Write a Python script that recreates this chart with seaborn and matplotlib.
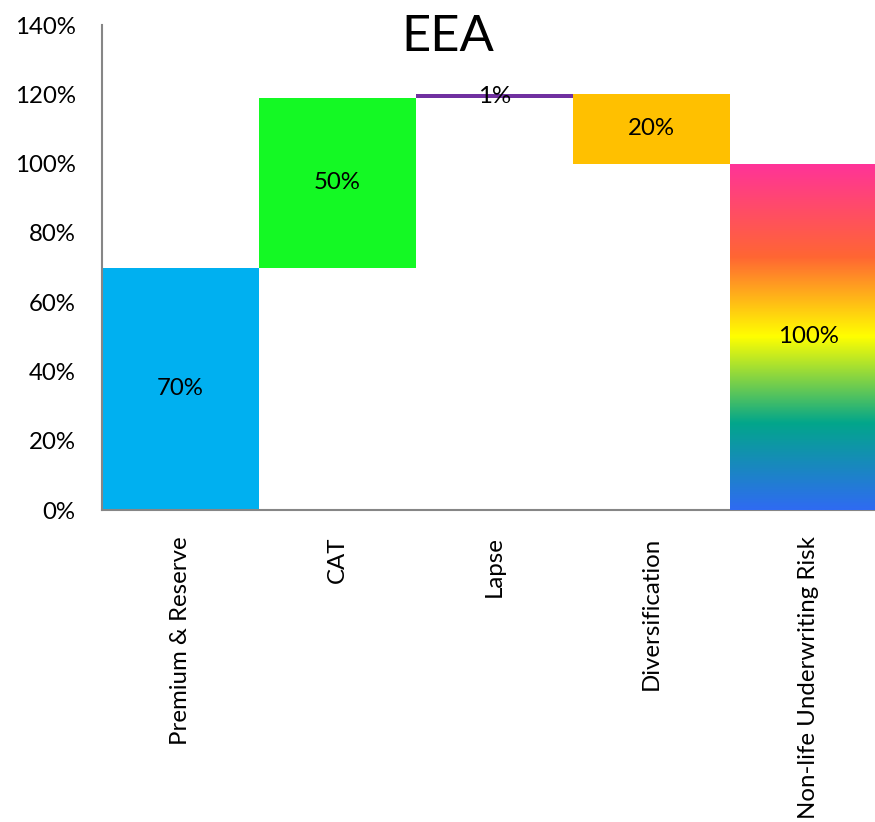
import matplotlib
matplotlib.use("Agg")
import matplotlib.pyplot as plt
import seaborn as sns
import numpy as np
from matplotlib.colors import LinearSegmentedColormap

# ---- data ----
categories = ["Premium & Reserve", "CAT", "Lapse", "Diversification", "Non-life Underwriting Risk"]
bar_bottom = [0, 70, 119, 100, 0]
bar_top = [70, 119, 120, 120, 100]
bar_labels = ["70%", "50%", "1%", "20%", "100%"]
y_ticks = [0, 20, 40, 60, 80, 100, 120, 140]
y_tick_labels = ["0%", "20%", "40%", "60%", "80%", "100%", "120%", "140%"]
title = "EEA"

colors = ["#00B0F0", "#14F924", "#7030A0", "#FFC000", "#FF3399"]
gradient_stops = [(0.0, "#2F6BF2"), (0.25, "#02A68B"), (0.5, "#FFFF00"),
                  (0.73, "#FF6633"), (1.0, "#FF3399")]

sns.set_theme(style="white")
plt.rcParams["font.family"] = ["Lato", "DejaVu Sans"]

W, H = 875, 822
fig = plt.figure(figsize=(W / 100, H / 100), dpi=100)
ax = fig.add_axes([102 / W, (H - 510) / H, 785 / W, 485 / H])

heights = [t - b for t, b in zip(bar_top, bar_bottom)]
sns.barplot(x=categories, y=heights, hue=categories, palette=colors, width=1,
            saturation=1, legend=False, ax=ax, linewidth=0)

patches = list(ax.patches)
for p, b in zip(patches, bar_bottom):
    p.set_y(b)

# gradient for the last bar
cmap = LinearSegmentedColormap.from_list("grad", gradient_stops)
last = patches[-1]
x0 = last.get_x()
grad = np.linspace(0, 1, 256).reshape(-1, 1)
im = ax.imshow(grad, cmap=cmap, origin="lower", aspect="auto",
               extent=[x0, x0 + last.get_width(), bar_bottom[-1], bar_top[-1]], zorder=3)
im.set_clip_path(last)

FS = 17.3
for i, (b, t, lab) in enumerate(zip(bar_bottom, bar_top, bar_labels)):
    ax.text(i, (b + t) / 2, lab, ha="center", va="center", fontsize=FS, color="black", zorder=5)

ax.set_xlim(-0.5, 4.5)
ax.set_ylim(0, 140)
ax.set_yticks(y_ticks)
ax.set_yticklabels(y_tick_labels, fontsize=FS)
ax.set_xticks(range(len(categories)))
ax.set_xticklabels(categories, rotation=90, fontsize=FS)
ax.tick_params(axis="both", length=0, colors="black")
ax.tick_params(axis="y", pad=19)
ax.tick_params(axis="x", pad=19)
ax.set_xlabel("")
ax.set_ylabel("")
ax.grid(False)
for s in ["top", "right"]:
    ax.spines[s].set_visible(False)
for s in ["left", "bottom"]:
    ax.spines[s].set_color("#868686")
    ax.spines[s].set_linewidth(1.5)

fig.text(448 / W, 1 - 37 / H, title, ha="center", va="center", fontsize=36.5, color="black")

fig.savefig("out.png", dpi=100)
